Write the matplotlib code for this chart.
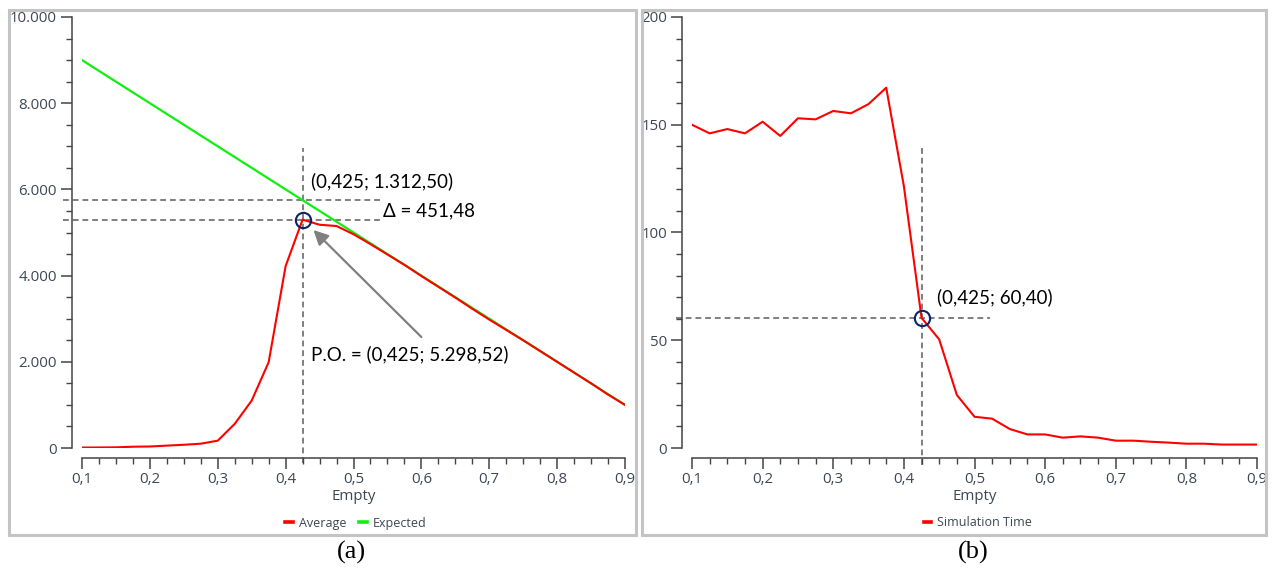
import matplotlib
matplotlib.use("Agg")
import matplotlib.pyplot as plt
from matplotlib.patches import Rectangle
from matplotlib.ticker import MultipleLocator, FuncFormatter

# ---- data -------------------------------------------------------------
empty = [0.1, 0.125, 0.15, 0.175, 0.2, 0.225, 0.25, 0.275, 0.3, 0.325, 0.35,
         0.375, 0.4, 0.425, 0.45, 0.475, 0.5, 0.525, 0.55, 0.575, 0.6, 0.625,
         0.65, 0.675, 0.7, 0.725, 0.75, 0.775, 0.8, 0.825, 0.85, 0.875, 0.9]

average = [10, 12, 15, 30, 35, 55, 75, 100, 170, 560, 1100, 1990, 4220,
           5298.52, 5180, 5150, 4960, 4730, 4490, 4250, 3990, 3740, 3490,
           3230, 2980, 2740, 2500, 2250, 2000, 1750, 1500, 1240, 1000]

expected = [9000, 8750, 8500, 8250, 8000, 7750, 7500, 7250, 7000, 6750, 6500,
            6250, 6000, 5750, 5500, 5250, 5000, 4750, 4500, 4250, 4000, 3750,
            3500, 3250, 3000, 2750, 2500, 2250, 2000, 1750, 1500, 1250, 1000]

sim_time = [150.0, 146.0, 148.0, 146.0, 151.4, 144.8, 153.0, 152.5, 156.4,
            155.3, 159.6, 167.2, 121.5, 60.40, 50.4, 24.6, 14.5, 13.6, 8.8,
            6.3, 6.3, 4.8, 5.4, 4.8, 3.4, 3.4, 2.9, 2.5, 2.0, 2.0, 1.6, 1.6, 1.6]

po_x = 0.425
po_avg = 5298.52
po_exp = 5750.0
po_time = 60.40

xticks = [0.1, 0.2, 0.3, 0.4, 0.5, 0.6, 0.7, 0.8, 0.9]

# ---- styling ----------------------------------------------------------
W, H = 1276, 572
DPI = 100
TICK_COLOR = "#3d4654"
AXIS_COLOR = "#444444"
DASH_COLOR = "#7f7f7f"
RED = "#ff0000"
GREEN = "#10f010"
NAVY = "#0b2466"
UI_FONT = "Open Sans"
NOTE_FONT = "Lato"

fig = plt.figure(figsize=(W / DPI, H / DPI), dpi=DPI)


def px_axes(x0, x1, y_top, y_bot):
    return fig.add_axes([x0 / W, (H - y_bot) / H, (x1 - x0) / W, (y_bot - y_top) / H])


def comma(v, _pos=None, decimals=1):
    return f"{v:.{decimals}f}".replace(".", ",")


def thousands(v, _pos=None):
    return f"{int(round(v)):,}".replace(",", ".")


def style_axes(ax, ymax, ymajor, yminor, yfmt):
    ax.set_xlim(0.1, 0.9)
    ax.set_ylim(0, ymax)
    for side in ("top", "right"):
        ax.spines[side].set_visible(False)
    ax.spines["left"].set_position(("outward", 7))
    ax.spines["bottom"].set_position(("outward", 7))
    ax.spines["left"].set_bounds(0, ymax)
    ax.spines["bottom"].set_bounds(0.1, 0.9)
    for side in ("left", "bottom"):
        ax.spines[side].set_color(AXIS_COLOR)
        ax.spines[side].set_linewidth(1.1)
    ax.set_xticks(xticks)
    ax.xaxis.set_minor_locator(MultipleLocator(0.025))
    ax.xaxis.set_major_formatter(FuncFormatter(comma))
    ax.yaxis.set_major_locator(MultipleLocator(ymajor))
    ax.yaxis.set_minor_locator(MultipleLocator(yminor))
    ax.yaxis.set_major_formatter(FuncFormatter(yfmt))
    ax.tick_params(which="major", length=8, width=1.1, color=AXIS_COLOR,
                   labelsize=10.8, labelcolor=TICK_COLOR, pad=3)
    ax.tick_params(axis="x", which="major", pad=2)
    ax.tick_params(which="minor", length=4.5, width=1.0, color=AXIS_COLOR)
    for lab in ax.get_xticklabels() + ax.get_yticklabels():
        lab.set_fontfamily(UI_FONT)
    ax.set_xlabel("Empty", fontsize=10.8, color=TICK_COLOR, family=UI_FONT, labelpad=2)
    ax.patch.set_alpha(0)


dash = dict(color=DASH_COLOR, lw=1.4, linestyle=(0, (3, 2)), clip_on=False, zorder=1)
note = dict(fontsize=13.5, family=NOTE_FONT, color="black", va="center", ha="left")
leg_prop = {"family": UI_FONT, "size": 9}

# ---- panel frames -----------------------------------------------------
for x0, x1 in ((9, 636), (642, 1266)):
    fig.patches.append(Rectangle((x0 / W, (H - 535) / H), (x1 - x0) / W, 525 / H,
                                 transform=fig.transFigure, fill=False,
                                 edgecolor="#c4c4c4", linewidth=2.2, zorder=0))

# ---- (a) average vs expected -----------------------------------------
ax1 = px_axes(82, 625, 17, 448)
style_axes(ax1, 10000, 2000, 500, thousands)
h_exp, = ax1.plot(empty, expected, color=GREEN, lw=1.6, label="Expected", zorder=3)
h_avg, = ax1.plot(empty, average, color=RED, lw=1.5, label="Average", zorder=4)
ax1.plot([po_x, po_x], [-350, 6960], **dash)
ax1.plot([0.072, 0.540], [po_exp, po_exp], **dash)
ax1.plot([0.072, 0.540], [po_avg, po_avg], **dash)
ax1.plot([po_x], [po_avg], marker="o", ms=11, mfc="none", mec=NAVY, mew=1.5, zorder=6)
ax1.text(0.438, 6195, "(0,425; 1.312,50)", **note)
ax1.text(0.543, 5499, "Δ = 451,48", **note)
ax1.text(0.437, 2181, "P.O. = (0,425; 5.298,52)", **note)
ax1.annotate("", xy=(0.441, 5058), xytext=(0.600, 2575),
             arrowprops=dict(arrowstyle="-|>", color="#808080", lw=1.6,
                             mutation_scale=22, shrinkA=0, shrinkB=0))
leg1 = ax1.legend([h_avg, h_exp], ["Average", "Expected"], loc="center",
                  bbox_to_anchor=(356 / W, (H - 523) / H), bbox_transform=fig.transFigure,
                  ncol=2, frameon=False, handlelength=0.6, handletextpad=0.5,
                  columnspacing=1.0, prop=leg_prop)
for t in leg1.get_texts():
    t.set_color(TICK_COLOR)
for lh in leg1.get_lines():
    lh.set_linewidth(2.6)

# ---- (b) simulation time ---------------------------------------------
ax2 = px_axes(692, 1257, 17, 448)
style_axes(ax2, 200, 50, 10, lambda v, p=None: f"{int(round(v))}")
ax2.plot(empty, sim_time, color=RED, lw=1.5, label="Simulation Time", zorder=4)
ax2.plot([po_x, po_x], [-8, 139], **dash)
ax2.plot([0.077, 0.5215], [po_time, po_time], **dash)
ax2.plot([po_x], [po_time], marker="o", ms=11, mfc="none", mec=NAVY, mew=1.5, zorder=6)
ax2.text(0.4465, 70.1, "(0,425; 60,40)", **note)
leg2 = ax2.legend(loc="center", bbox_to_anchor=(978 / W, (H - 523) / H),
                  bbox_transform=fig.transFigure, frameon=False, handlelength=0.6,
                  handletextpad=0.5, prop=leg_prop)
for t in leg2.get_texts():
    t.set_color(TICK_COLOR)
for lh in leg2.get_lines():
    lh.set_linewidth(2.6)

# ---- captions ---------------------------------------------------------
for xc, cap in ((351, "(a)"), (973, "(b)")):
    fig.text(xc / W, (H - 552) / H, cap, ha="center", va="center",
             fontsize=19, family="Liberation Serif", color="black")

fig.savefig("out.png", dpi=DPI)
